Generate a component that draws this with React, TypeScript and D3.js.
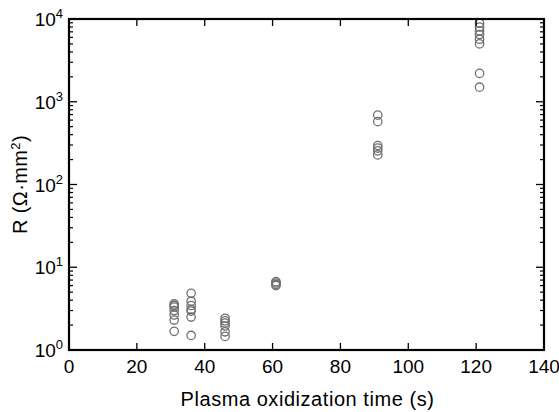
import React from "react";
import * as d3 from "d3";

const times = [31, 36, 46, 61, 91, 121];
const r31 = [3.6, 3.45, 3.3, 3.0, 2.65, 2.3, 1.68];
const r36 = [4.84, 3.89, 3.45, 3.09, 2.95, 2.5, 1.5];
const r46 = [2.42, 2.25, 2.12, 1.95, 1.66, 1.46];
const r61 = [6.7, 6.45, 6.2, 6.0];
const r91 = [690, 575, 295, 275, 255, 228];
const r121 = [8900, 8000, 7200, 6500, 5700, 5000, 2200, 1500];
const groups = [r31, r36, r46, r61, r91, r121];

const xTicks = [0, 20, 40, 60, 80, 100, 120, 140];
const yDecades = [0, 1, 2, 3, 4];
const xLabel = "Plasma oxidization time (s)";

const W = 559, H = 412;
const L = 69, R = 544, T = 19, B = 350;

export default function App() {
  const x = d3.scaleLinear().domain([0, 140]).range([L, R]);
  const y = d3.scaleLog().domain([1, 10000]).range([B, T]);
  const points = groups.flatMap((g, i) => g.map((v) => ({ t: times[i], v })));
  const minor: number[] = [];
  for (let d = 0; d < 4; d++) for (let k = 2; k <= 9; k++) minor.push(k * Math.pow(10, d));
  const font = "Liberation Sans, Arial, sans-serif";
  return (
    <svg width={W} height={H} style={{ position: "absolute", left: 0, top: 0, background: "#fff" }} fontFamily={font}>
      <rect width={W} height={H} fill="#fff" />
      {points.map((p, i) => (
        <circle key={i} cx={x(p.t)} cy={y(p.v)} r={4.2} fill="none" stroke="#707070" strokeWidth={1.3} />
      ))}
      {xTicks.map((t) => (
        <g key={t}>
          <line x1={x(t)} x2={x(t)} y1={B} y2={B - 7} stroke="#000" strokeWidth={1.3} />
          <line x1={x(t)} x2={x(t)} y1={T} y2={T + 7} stroke="#000" strokeWidth={1.3} />
          <text x={x(t)} y={373} textAnchor="middle" fontSize={19}>{t}</text>
        </g>
      ))}
      {yDecades.map((d) => {
        const yy = y(Math.pow(10, d));
        return (
          <g key={d}>
            <line x1={L} x2={L + 8} y1={yy} y2={yy} stroke="#000" strokeWidth={1.3} />
            <line x1={R} x2={R - 8} y1={yy} y2={yy} stroke="#000" strokeWidth={1.3} />
            <text x={63} y={yy + 7} textAnchor="end" fontSize={19}>
              10<tspan fontSize={13} dy={-8}>{d}</tspan>
            </text>
          </g>
        );
      })}
      {minor.map((m) => (
        <g key={m}>
          <line x1={L} x2={L + 4} y1={y(m)} y2={y(m)} stroke="#000" strokeWidth={1.2} />
          <line x1={R} x2={R - 4} y1={y(m)} y2={y(m)} stroke="#000" strokeWidth={1.2} />
        </g>
      ))}
      <rect x={L} y={T} width={R - L} height={B - T} fill="none" stroke="#000" strokeWidth={2.2} />
      <text x={(L + R) / 2 + 1} y={406} textAnchor="middle" fontSize={20} letterSpacing={0.55}>{xLabel}</text>
      <text transform={`translate(27,${(T + B) / 2}) rotate(-90)`} textAnchor="middle" fontSize={20} letterSpacing={0.4}>
        R (Ω·mm<tspan fontSize={13} dy={-7}>2</tspan><tspan dy={7}>)</tspan>
      </text>
    </svg>
  );
}
